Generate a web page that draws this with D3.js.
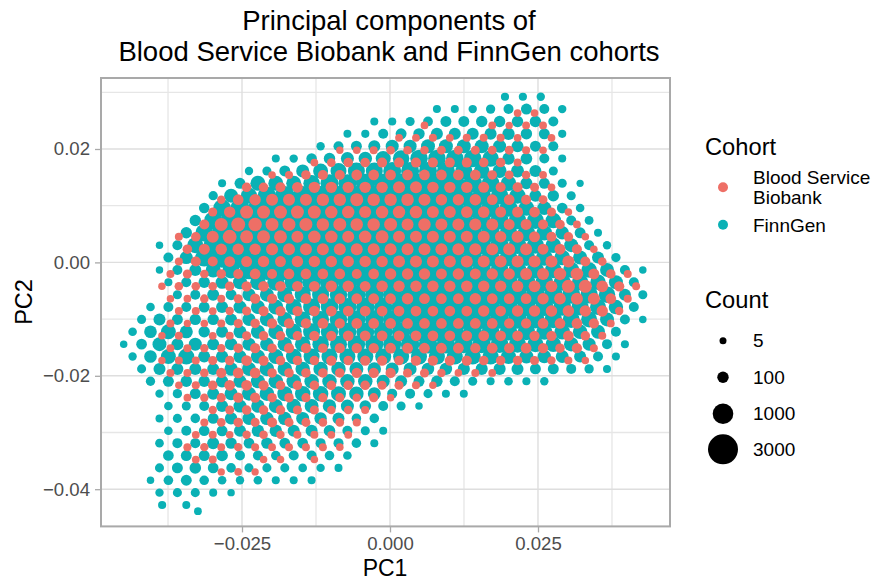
<!DOCTYPE html>
<html><head><meta charset="utf-8">
<script src="https://cdn.jsdelivr.net/npm/d3@7"></script>
<style>html,body{margin:0;padding:0;background:#fff}svg{display:block;font-family:"Liberation Sans",Arial,sans-serif}</style>
</head><body><svg id="c" width="871" height="581"></svg>
<script>
const titleLines = ["Principal components of", "Blood Service Biobank and FinnGen cohorts"];
const xTicks = [-0.025, 0, 0.025];
const yTicks = [-0.04, -0.02, 0, 0.02];
const xMinor = [-0.0375, -0.0125, 0.0125, 0.0375];
const yMinor = [-0.03, -0.01, 0.01, 0.03];
const cohorts = ["Blood Service Biobank", "FinnGen"];
const countBreaks = [5, 100, 1000, 3000];

// hexagon-bin lattices
const finnTop = 0.02922, finnRowStep = 0.002182, finnColStep = 0.003024, finnEven = -0.03894, finnOdd = -0.04046;
const bloodTop = 0.02633, bloodRowStep = 0.002182, bloodColStep = 0.002861, bloodEven = -0.04139, bloodOdd = -0.03995;

// [row, first column, counts along the row]
const finnRows = [
[0,19.3,[30,30,35]],
[1,16,[27,27,35,55,70,90,70,35]],
[2,12,[27,30,50,65,90,90,100,100,100,100,70]],
[3,11,[25,30,70,90,100,160,160,160,160,190,100,90,30]],
[4,9,[35,70,90,160,260,260,350,350,350,350,260,160,90,70]],
[5,7,[27,35,80,100,260,300,450,600,700,700,700,700,600,200,130,70,27]],
[6,5,[35,50,90,260,450,550,650,650,750,750,750,750,650,500,350,260,160,50]],
[7,4,[27,90,450,450,450,600,750,750,850,850,850,850,850,850,800,700,500,160,90,50,10]],
[8,3,[55,350,550,800,900,900,900,900,900,900,900,900,900,900,850,800,700,550,160,100,50]],
[9,3,[80,700,850,900,900,900,900,900,900,900,900,900,900,900,850,800,750,700,500,350,85,40]],
[10,2,[100,750,1000,1000,950,950,900,900,900,900,900,900,900,900,900,850,800,750,700,650,500,70,45]],
[11,2,[100,700,1000,1100,1000,950,900,900,900,900,900,900,900,900,900,900,850,800,700,650,500,300,90,27]],
[12,0,[15,70,550,900,1100,1100,1000,950,900,900,900,900,900,900,900,900,900,850,800,750,700,650,500,350,70,35]],
[13,1,[70,260,750,1000,1100,1100,1000,950,900,900,900,900,900,900,900,900,850,800,750,700,650,600,500,350,160,55]],
[14,0,[15,70,160,450,650,800,950,1000,950,900,900,900,900,900,900,900,900,850,800,750,700,650,600,550,500,350,70,15]],
[15,1,[27,70,100,260,350,500,650,750,800,850,850,900,900,900,900,900,900,850,850,800,750,700,650,600,500,350,70]],
[16,1,[50,70,160,90,260,350,450,550,650,700,750,800,800,850,850,850,900,900,900,850,850,800,750,700,600,160,50]],
[17,0,[40,70,70,90,160,260,350,450,550,650,700,750,800,800,850,850,850,900,900,850,850,800,750,700,650,550,400,70]],
[18,-1,[50,160,90,100,100,160,260,350,450,550,650,700,750,800,800,850,850,850,850,850,800,800,750,700,650,550,350,70,15]],
[19,-1,[40,220,450,260,100,160,260,350,450,550,650,700,750,750,800,800,850,850,800,800,750,700,650,550,500,400,350,70]],
[20,-2,[15,85,350,160,260,160,200,260,300,400,500,600,650,700,750,750,800,800,800,750,750,700,650,550,500,400,260,70,27]],
[21,-1,[35,220,450,550,160,200,260,350,450,500,550,550,550,550,550,550,550,550,550,550,550,450,350,300,250,160,70,27]],
[22,-1,[50,160,160,160,160,300,350,400,400,400,400,400,350,300,260,260,200,200,170,170,170,160,90,90,70,55,27]],
[23,0,[55,90,100,100,200,260,350,400,400,400,400,400,400,260,160,90,100,70,50,27,40,27,35]],
[24,0,[35,55,90,160,260,350,400,450,500,500,450,400,250,70,70,50,27,27]],
[25,1,[40,50,70,160,260,300,350,400,350,300,260,120,70,50,15]],
[26,0,[27,50,60,90,200,260,300,300,260,200,160,60,60]],
[27,1,[40,70,85,90,160,200,200,160,160,120,70,50,27]],
[28,0,[40,70,70,160,100,85,100,85,85,70,70,60,27]],
[29,1,[85,90,90,120,70,70,60,70,70,60,40]],
[30,0,[50,90,120,85,60,50,50,50,40,35,27]],
[31,0,[15,60,90,60,40,35,40,27,27,27]],
[32,0,[35,50,50,27,15]],
[33,0.65,[30]],
[33,2,[27]],
[33.5,2.65,[22]]
];

const bloodRows = [
[0,22,[20,20]],
[1,16,[20,0,0,0,22,12,22,22]],
[2,15,[22,22,27,22,27,27,27,22,0,22]],
[3,11,[12,18,27,40,40,40,45,45,45,45,45,27,18]],
[4,10,[22,40,60,60,70,70,70,70,70,70,60,60,27]],
[5,7,[18,27,60,70,70,85,85,85,85,85,85,85,85,60,45,40,22]],
[6,6,[60,60,70,85,100,100,100,100,100,160,160,100,100,100,90,70,70,50,22]],
[7,4,[35,85,100,160,160,160,210,210,256,210,210,210,160,100,100,100,85,85,70,45]],
[8,4,[50,100,256,256,256,256,256,210,210,160,210,210,210,160,160,120,120,90,90,85,50,18]],
[9,3,[70,256,350,300,256,256,256,210,256,210,210,256,160,210,160,160,160,160,90,90,70,60,22]],
[10,2,[27,60,160,350,256,256,256,160,210,210,160,210,256,160,160,160,160,160,160,100,160,90,70,60,18]],
[11,2,[60,90,100,100,100,160,160,160,160,160,160,160,160,160,160,160,160,160,160,160,160,90,90,70,18]],
[12,2,[27,70,70,85,90,100,90,100,100,100,100,100,100,160,160,160,160,160,160,160,160,160,160,160,70,40]],
[13,1,[27,50,40,60,70,85,70,85,85,85,85,70,85,100,100,100,90,100,90,100,100,160,160,210,210,90,60,27]],
[14,1,[15,40,40,40,60,75,85,85,85,85,100,100,85,100,100,100,100,100,110,100,100,110,130,130,256,256,130,75,27]],
[15,1,[15,20,40,27,50,75,75,75,85,85,85,85,85,85,100,85,85,85,100,85,85,85,100,130,160,160,85,27]],
[16,2,[27,27,22,35,50,75,75,75,85,85,85,85,85,85,85,85,85,85,100,85,100,100,110,110,110,100,35]],
[17,1,[27,12,18,27,50,60,75,75,75,85,75,85,85,85,85,85,85,85,85,85,75,75,85,85,85,75,22]],
[18,1,[15,27,0,22,27,50,60,60,60,75,75,85,85,85,85,85,85,85,85,85,85,85,75,75,85,60,27]],
[19,1,[22,27,35,35,60,75,60,75,75,60,75,75,75,85,85,85,85,85,75,85,75,85,75,60,75,27]],
[20,1,[15,27,27,50,60,85,75,60,60,60,75,60,75,75,60,75,75,75,75,60,60,60,50,35,27,15]],
[21,1,[27,27,40,75,85,85,60,60,60,60,60,75,75,75,50,50,35,18,27,22]],
[22,2,[15,27,60,85,85,75,60,60,60,60,60,60,50,50,27,15]],
[23,2,[20,35,50,75,75,60,60,50,50,50,35,50,15]],
[24,4,[35,50,60,60,60,50,50,40,40,27]],
[25,3,[27,40,60,50,70,50,50,40,40,27]],
[26,3,[22,27,18,35,40,35,27,27,22,22]],
[27,2,[27,35,22,35,27,22,27,27,27,18]],
[28,3,[22,27,0,0,18,18,0,18]],
[29,4,[12,18,12]]
];

function points(rows, top, rowStep, colStep, even, odd) {
  const out = [];
  rows.forEach(([r, first, counts]) => counts.forEach((n, i) => {
    if (n > 0) out.push({
      pc1: (Math.floor(r) % 2 === 0 ? even : odd) + (first + i) * colStep,
      pc2: top - r * rowStep,
      n
    });
  }));
  return out;
}
const finn = points(finnRows, finnTop, finnRowStep, finnColStep, finnEven, finnOdd);
const blood = points(bloodRows, bloodTop, bloodRowStep, bloodColStep, bloodEven, bloodOdd);

const L = 101, R = 670, T = 78, B = 526.4;
const x = d3.scaleLinear().domain([-0.04882, 0.0473]).range([L, R]);
const y = d3.scaleLinear().domain([-0.04656, 0.03252]).range([B, T]);
const size = d3.scaleLinear().domain(countBreaks).range([3.5, 5.7, 10.3, 15]);
const color = d3.scaleOrdinal().domain(cohorts).range(["#EE6F66", "#0AB1B5"]);
const svg = d3.select("#c");

const grid = svg.append("g");
grid.selectAll(".mx").data(xMinor).join("line").attr("x1", x).attr("x2", x).attr("y1", T).attr("y2", B).attr("stroke", "#e6e6e6").attr("stroke-width", 1.3);
grid.selectAll(".my").data(yMinor).join("line").attr("x1", L).attr("x2", R).attr("y1", y).attr("y2", y).attr("stroke", "#e6e6e6").attr("stroke-width", 1.3);
grid.selectAll(".Mx").data(xTicks).join("line").attr("x1", x).attr("x2", x).attr("y1", T).attr("y2", B).attr("stroke", "#dedede").attr("stroke-width", 1.4);
grid.selectAll(".My").data(yTicks).join("line").attr("x1", L).attr("x2", R).attr("y1", y).attr("y2", y).attr("stroke", "#dedede").attr("stroke-width", 1.4);

const draw = (data, c) => svg.append("g").selectAll("circle").data(data).join("circle")
  .attr("cx", d => x(d.pc1)).attr("cy", d => y(d.pc2)).attr("r", d => size(d.n)).attr("fill", color(c));
draw(finn, cohorts[1]);
draw(blood, cohorts[0]);

svg.append("rect").attr("x", L).attr("y", T).attr("width", R - L).attr("height", B - T)
  .attr("fill", "none").attr("stroke", "#a9a9a9").attr("stroke-width", 2);

const ax = svg.append("g").attr("transform", `translate(0,${B})`)
  .call(d3.axisBottom(x).tickValues(xTicks).tickFormat(d3.format(".3f")).tickSize(6).tickPadding(4));
const ay = svg.append("g").attr("transform", `translate(${L},0)`)
  .call(d3.axisLeft(y).tickValues(yTicks).tickFormat(d3.format(".2f")).tickSize(6).tickPadding(5));
[ax, ay].forEach(a => {
  a.select(".domain").remove();
  a.selectAll("line").attr("stroke", "#a9a9a9").attr("stroke-width", 1.3);
  a.selectAll("text").attr("fill", "#4d4d4d").attr("font-size", 18.6).attr("font-family", '"Liberation Sans",Arial,sans-serif');
});

svg.selectAll(".title").data(titleLines).join("text")
  .attr("x", 389).attr("y", (d, i) => 30 + i * 31).attr("text-anchor", "middle")
  .attr("font-size", 27.5).attr("fill", "#000").text(d => d);
svg.append("text").attr("x", 385).attr("y", 576).attr("text-anchor", "middle").attr("font-size", 23).text("PC1");
svg.append("text").attr("transform", "translate(32,302) rotate(-90)").attr("text-anchor", "middle").attr("font-size", 23.5).text("PC2");

svg.append("text").attr("x", 705).attr("y", 155).attr("font-size", 23.7).text("Cohort");
svg.append("text").attr("x", 705).attr("y", 308).attr("font-size", 23.7).text("Count");
const cohortY = [187.3, 224.7];
svg.selectAll(".lc").data(cohorts).join("circle").attr("cx", 723).attr("cy", (d, i) => cohortY[i]).attr("r", 5).attr("fill", d => color(d));
[["Blood Service", 184], ["Biobank", 204], ["FinnGen", 231.5]].forEach(([t, yy]) =>
  svg.append("text").attr("x", 753).attr("y", yy).attr("font-size", 19).text(t));
const countY = [340.7, 377.3, 413.7, 449.3];
svg.selectAll(".ls").data(countBreaks).join("circle").attr("cx", 723).attr("cy", (d, i) => countY[i]).attr("r", d => size(d)).attr("fill", "#000");
svg.selectAll(".lt").data(countBreaks).join("text").attr("x", 753).attr("y", (d, i) => countY[i] + 6.5).attr("font-size", 19).text(d => d);
</script></body></html>
